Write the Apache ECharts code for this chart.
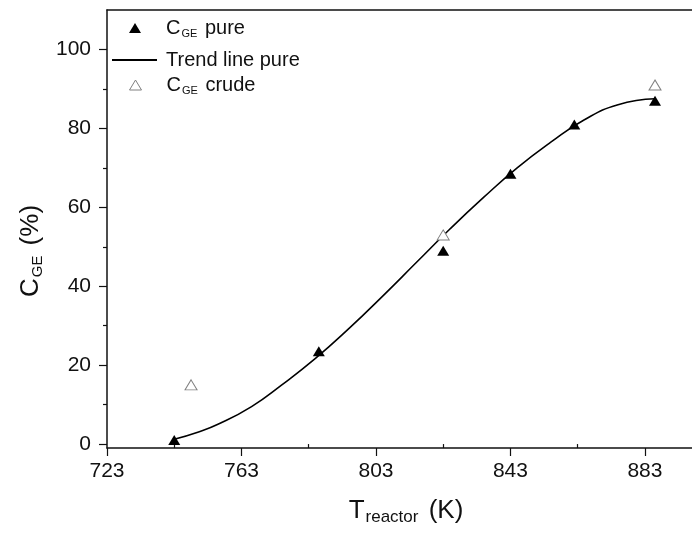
<!DOCTYPE html>
<html>
<head>
<meta charset="utf-8">
<script src="https://cdn.jsdelivr.net/npm/echarts@6/dist/echarts.min.js"></script>
<style>
  html, body { margin: 0; padding: 0; background: #fff; }
  #chart { width: 692px; height: 533px; }
</style>
</head>
<body>
<div id="chart"></div>
<script>
// values
const purePoints = [[743, 1], [786, 23.5], [823, 49], [843, 68.5], [862, 81], [886, 87]];
const crudePoints = [[748, 15], [823, 53], [886, 91]];
const trendPoints = [
  [743, 1.2], [750, 3], [756, 5], [766, 9.5], [775, 15], [785, 21.7], [795, 29.3],
  [805, 37.5], [815, 46], [825, 54.5], [835, 62.5], [845, 70], [855, 76.5],
  [865, 82.2], [875, 86], [886, 87.5]
];
const xMajorTicks = [723, 763, 803, 843, 883];
const xMinorTicks = [743, 783, 823, 863];
const yMajorTicks = [0, 20, 40, 60, 80, 100];
const yMinorTicks = [10, 30, 50, 70, 90];

const font = 'Liberation Sans, Arial, sans-serif';
const ink = '#111';

const chart = echarts.init(document.getElementById('chart'), null, { renderer: 'canvas' });

const legendText = {
  fontFamily: font, fontSize: 20, color: ink,
  rich: {
    c: { fontFamily: font, fontSize: 20, color: ink },
    s: { fontFamily: font, fontSize: 11, color: ink, padding: [12, 2, 0, 1] }
  }
};
const subFormatter = n => n.replace('C_GE', '{c|C}{s|GE}');
const tickLine = { color: ink, width: 1.2 };

const option = {
  backgroundColor: '#fff',
  animation: false,
  textStyle: { fontFamily: font, color: ink },
  grid: { left: 107, right: 0, top: 10, bottom: 85 },
  legend: [{
    left: 124, top: 13,
    itemWidth: 12, itemHeight: 10,
    textStyle: Object.assign({ padding: [0, 0, 0, 20] }, legendText),
    formatter: subFormatter,
    data: [{ name: 'C_GE pure', icon: 'triangle', itemStyle: { color: '#000', borderWidth: 0 } }]
  }, {
    left: 107, top: 45,
    itemWidth: 45, itemHeight: 2,
    textStyle: Object.assign({ padding: [0, 0, 0, 4] }, legendText),
    data: [{ name: 'Trend line pure', icon: 'rect', itemStyle: { color: '#000', borderWidth: 0 } }]
  }, {
    left: 124, top: 70,
    itemWidth: 12, itemHeight: 10,
    textStyle: Object.assign({ padding: [0, 0, 0, 20] }, legendText),
    formatter: subFormatter,
    data: [{ name: 'C_GE crude', icon: 'triangle', itemStyle: { color: '#fff', borderColor: '#808080', borderWidth: 1 } }]
  }],
  xAxis: [{
    type: 'value', min: 723, max: 897,
    name: '{t|T}{s|reactor}{t| (K)}',
    nameLocation: 'middle', nameGap: 47,
    nameTextStyle: {
      padding: [0, 0, 0, 13],
      rich: {
        t: { fontFamily: font, fontSize: 26, color: ink },
        s: { fontFamily: font, fontSize: 17, color: ink, padding: [14, 3, 0, 1] }
      }
    },
    splitLine: { show: false },
    axisLine: { onZero: false, lineStyle: { color: ink, width: 1.5 } },
    axisTick: { length: 8, customValues: xMajorTicks, lineStyle: tickLine },
    axisLabel: { customValues: xMajorTicks, fontFamily: font, fontSize: 21, color: ink, margin: 13 }
  }, {
    // minor ticks on the bottom axis
    type: 'value', min: 723, max: 897, position: 'bottom',
    splitLine: { show: false },
    axisLine: { show: false },
    axisLabel: { show: false },
    axisTick: { length: 4, customValues: xMinorTicks, lineStyle: tickLine }
  }, {
    // top frame line
    type: 'value', min: 723, max: 897, position: 'top',
    splitLine: { show: false },
    axisLine: { show: true, onZero: false, lineStyle: { color: ink, width: 1.5 } },
    axisTick: { show: false },
    axisLabel: { show: false }
  }],
  yAxis: [{
    type: 'value', min: -1, max: 110,
    name: '{t|C}{s|GE}{t| (%)}',
    nameLocation: 'middle', nameGap: 56, nameRotate: 90,
    nameTextStyle: {
      padding: [0, 44, 0, 0],
      rich: {
        t: { fontFamily: font, fontSize: 26, color: ink },
        s: { fontFamily: font, fontSize: 15, color: ink, padding: [14, 3, 0, 1] }
      }
    },
    splitLine: { show: false },
    axisLine: { show: true, onZero: false, lineStyle: { color: ink, width: 1.5 } },
    axisTick: { show: true, length: 8, customValues: yMajorTicks, lineStyle: tickLine },
    axisLabel: { customValues: yMajorTicks, fontFamily: font, fontSize: 21, color: ink, margin: 16 }
  }, {
    type: 'value', min: -1, max: 110, position: 'left',
    splitLine: { show: false },
    axisLine: { show: false },
    axisLabel: { show: false },
    axisTick: { show: true, length: 4, customValues: yMinorTicks, lineStyle: tickLine }
  }],
  series: [
    {
      name: 'C_GE pure', type: 'scatter', data: purePoints,
      symbol: 'triangle', symbolSize: [12, 10],
      itemStyle: { color: '#000', opacity: 1 }, z: 4
    },
    {
      name: 'Trend line pure', type: 'line', data: trendPoints,
      smooth: true, symbol: 'none',
      lineStyle: { color: '#000', width: 1.6 }, z: 3
    },
    {
      name: 'C_GE crude', type: 'scatter', data: crudePoints,
      symbol: 'triangle', symbolSize: [12, 10],
      itemStyle: { color: '#fff', borderColor: '#808080', borderWidth: 1, opacity: 1 }, z: 5
    }
  ]
};

chart.setOption(option);
window.addEventListener('resize', () => chart.resize());
</script>
</body>
</html>
